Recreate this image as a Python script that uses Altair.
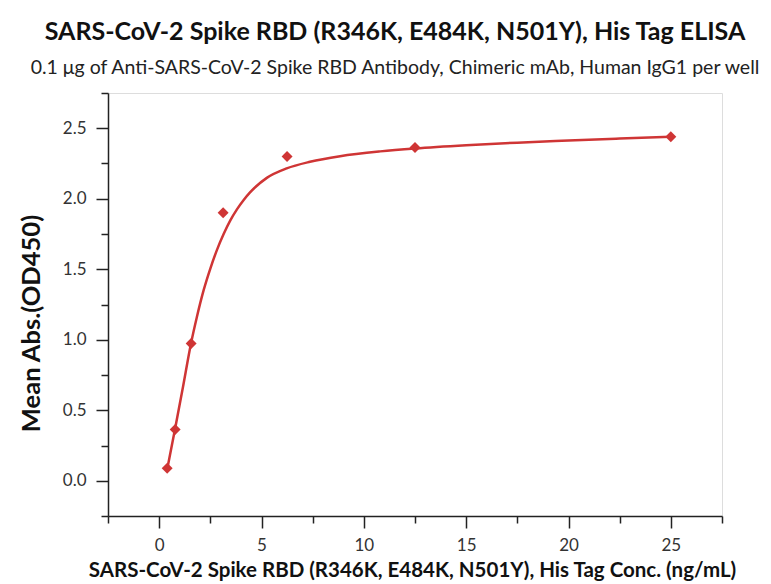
import altair as alt
import pandas as pd

# measured points
conc = [0.390625, 0.78125, 1.5625, 3.125, 6.25, 12.5, 25]
od = [0.088, 0.364, 0.974, 1.90, 2.30, 2.364, 2.44]

# fitted curve
curve_x = [0.39, 0.78, 1.17, 1.55, 1.84, 2.17, 2.5, 2.82, 3.15, 3.47, 3.8, 4.12, 4.44,
           5.26, 6.23, 7.37, 8.84, 10.8, 12.5, 15, 17.5, 20, 22.5, 25]
curve_y = [0.08, 0.37, 0.67, 0.97, 1.16, 1.35, 1.505, 1.636, 1.75, 1.845, 1.925, 1.99, 2.045,
           2.148, 2.215, 2.262, 2.302, 2.336, 2.357, 2.38, 2.398, 2.413, 2.427, 2.44]

x_major = [0, 5, 10, 15, 20, 25]
x_minor = [-2.5, 2.5, 7.5, 12.5, 17.5, 22.5, 27.5]
y_major = [0.0, 0.5, 1.0, 1.5, 2.0, 2.5]
y_minor = [-0.25, 0.25, 0.75, 1.25, 1.75, 2.25, 2.75]

title_text = "SARS-CoV-2 Spike RBD (R346K, E484K, N501Y), His Tag ELISA"
subtitle_text = "0.1 \u03bcg of Anti-SARS-CoV-2 Spike RBD Antibody, Chimeric mAb, Human IgG1 per well"
x_title = "SARS-CoV-2 Spike RBD (R346K, E484K, N501Y), His Tag Conc. (ng/mL)"
y_title = "Mean Abs.(OD450)"

FONT = "Lato"
RED = "#cf3535"
AX = "#222222"

pts = pd.DataFrame({"x": conc, "y": od})
crv = pd.DataFrame({"x": curve_x, "y": curve_y})

xs = alt.Scale(domain=[-2.5, 27.5], nice=False, zero=False)
ys = alt.Scale(domain=[-0.25, 2.75], nice=False, zero=False)

line = alt.Chart(crv).mark_line(color=RED, strokeWidth=2.5, interpolate="monotone").encode(
    x=alt.X("x:Q", scale=xs, axis=alt.Axis(orient="bottom", values=x_minor, labels=False,
                                           domain=False, grid=False, tickSize=7, tickWidth=1.5,
                                           tickColor=AX, title=None)),
    y=alt.Y("y:Q", scale=ys, axis=alt.Axis(orient="left", values=y_minor, labels=False,
                                           domain=False, grid=False, tickSize=7, tickWidth=1.5,
                                           tickColor=AX, title=None)),
)

points = alt.Chart(pts).mark_point(shape="diamond", filled=True, size=120, color=RED, opacity=1).encode(
    x=alt.X("x:Q", scale=xs, axis=alt.Axis(
        orient="bottom", values=x_major, grid=False, tickSize=12, tickWidth=1.5, tickColor=AX,
        domainColor=AX, domainWidth=1.5, labelFont=FONT, labelFontSize=17,
        labelColor="#333", labelPadding=9, title=x_title, titleFont=FONT,
        titleFontSize=20.5, titleFontWeight="bold", titleColor="#111",
        titleX=304, titleY=54, titleBaseline="middle", titleAlign="center")),
    y=alt.Y("y:Q", scale=ys, axis=alt.Axis(
        orient="left", values=y_major, format=".1f", grid=False, tickSize=12, tickWidth=1.5,
        tickColor=AX, domainColor=AX, domainWidth=1.5, labelFont=FONT,
        labelFontSize=17, labelColor="#333", labelPadding=10, title=y_title,
        titleFont=FONT, titleFontSize=25.5, titleFontWeight="bold", titleColor="#111",
        titleX=-77, titleY=230, titleAngle=-90, titleBaseline="middle", titleAlign="center")),
)

chart = alt.layer(line, points).resolve_axis(x="independent", y="independent").resolve_scale(
    x="shared", y="shared"
).properties(
    width=614,
    height=423,
    autosize=alt.AutoSizeParams(type="none"),
    padding={"left": 100, "top": 85, "right": 41, "bottom": 66},
    title=alt.TitleParams(
        text=title_text, subtitle=subtitle_text, anchor="middle", frame="group",
        font=FONT, fontSize=25, fontWeight="bold", color="#111",
        subtitleFont=FONT, subtitleFontSize=19.5, subtitleColor="#222",
        subtitlePadding=14, offset=15, dx=-20,
    ),
).configure_view(strokeWidth=0, stroke="transparent").configure(background="white")

chart.save("out.html", embed_options={"renderer": "svg", "actions": False})
